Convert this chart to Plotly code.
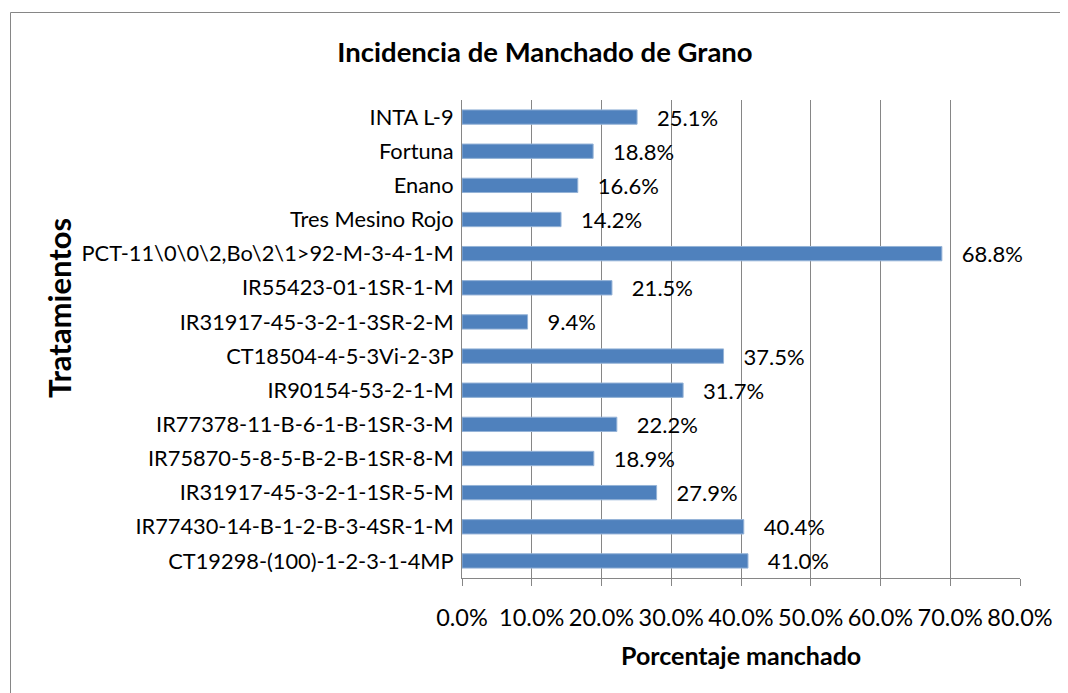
import plotly.graph_objects as go

categories = [
    "CT19298-(100)-1-2-3-1-4MP",
    "IR77430-14-B-1-2-B-3-4SR-1-M",
    "IR31917-45-3-2-1-1SR-5-M",
    "IR75870-5-8-5-B-2-B-1SR-8-M",
    "IR77378-11-B-6-1-B-1SR-3-M",
    "IR90154-53-2-1-M",
    "CT18504-4-5-3Vi-2-3P",
    "IR31917-45-3-2-1-3SR-2-M",
    "IR55423-01-1SR-1-M",
    "PCT-11\\0\\0\\2,Bo\\2\\1>92-M-3-4-1-M",
    "Tres Mesino Rojo",
    "Enano",
    "Fortuna",
    "INTA L-9",
]
values = [0.410, 0.404, 0.279, 0.189, 0.222, 0.317, 0.375, 0.094, 0.215, 0.688, 0.142, 0.166, 0.188, 0.251]
x_ticks = [0, 0.1, 0.2, 0.3, 0.4, 0.5, 0.6, 0.7, 0.8]
x_tick_labels = ["0.0%", "10.0%", "20.0%", "30.0%", "40.0%", "50.0%", "60.0%", "70.0%", "80.0%"]

FONT = "Lato"
OFF = 8  # page body margin
W, H = 1068 - OFF, 693 - OFF
L, T = 462 - OFF, 100 - OFF
pw, ph = 558, 478
R = W - L - pw
B = H - T - ph

def px(xpix):
    return (xpix - OFF - L) / pw

def py(ypix):
    return (T + ph - (ypix - OFF)) / ph

fig = go.Figure(go.Bar(
    y=categories, x=values, orientation="h",
    marker=dict(color="#4F81BD", line=dict(color="#95B3D7", width=1)),
    width=0.42,
    text=["   " + f"{v*100:.1f}%" for v in values],
    textposition="outside",
    constraintext="none",
    textfont=dict(family=FONT, size=22, color="#000000"),
    cliponaxis=False,
))

fig.update_layout(
    width=W, height=H,
    margin=dict(l=L, r=R, t=T, b=B),
    paper_bgcolor="white", plot_bgcolor="white",
    showlegend=False,
    font=dict(family=FONT, color="#000000"),
    title=dict(text="<b>Incidencia de Manchado de Grano</b>", x=(545 - OFF) / W, xanchor="center",
               y=1 - (52 - OFF) / H, yanchor="middle", font=dict(size=27.5, family=FONT, color="#000")),
)
fig.update_xaxes(
    range=[0, 0.8], tickvals=x_ticks, ticktext=x_tick_labels,
    showgrid=True, gridcolor="#868686", gridwidth=1,
    showline=True, linecolor="#868686", linewidth=1,
    ticks="outside", ticklen=7, tickcolor="#868686",
    tickfont=dict(size=23.5, family=FONT), ticklabelstandoff=12,
    zeroline=False,
)
fig.update_yaxes(
    categoryorder="array", categoryarray=categories,
    showline=True, linecolor="#868686", linewidth=1,
    ticks="", tickfont=dict(size=21.8, family=FONT), ticklabelstandoff=3,
    showgrid=False,
)
fig.add_annotation(text="<b>Tratamientos</b>", textangle=-90, xref="paper", yref="paper",
                   x=px(59), y=py(308), xanchor="center", yanchor="middle", showarrow=False,
                   font=dict(size=31, family=FONT))
fig.add_annotation(text="<b>Porcentaje manchado</b>", xref="paper", yref="paper",
                   x=0.5, y=py(655), xanchor="center", yanchor="middle", showarrow=False,
                   font=dict(size=25, family=FONT))
fig.add_shape(type="rect", xref="paper", yref="paper",
              x0=px(10.5), x1=px(1067.5),
              y0=py(710), y1=py(12.5),
              line=dict(color="#868686", width=1), fillcolor="rgba(0,0,0,0)", layer="below")

fig.write_html("out.html")
